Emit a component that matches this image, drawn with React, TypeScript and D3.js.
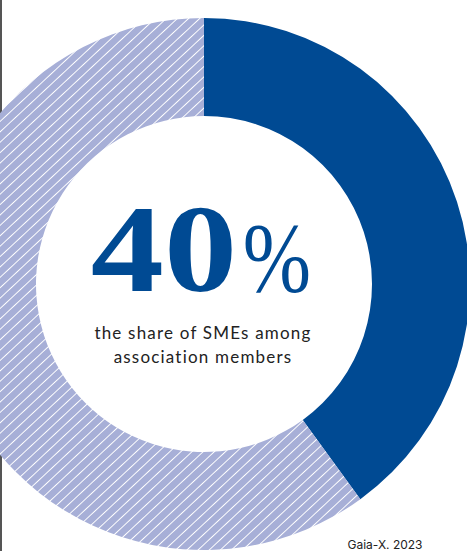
import React from "react";
import * as d3 from "d3";

const categories = ["SMEs", "Other members"];
const values = [40, 60];
const headline = "40";
const headlineUnit = "%";
const captionLines = ["the share of SMEs among", "association members"];
const source = "Gaia-X. 2023";

const W = 467;
const H = 551;
const cx = 204;
const cy = 284;
const rOuter = 266;
const rInner = 168;

export default function App() {
  const pie = d3
    .pie<number>()
    .sort(null)
    .value((d) => d);
  const arcs = pie(values);
  const arc = d3.arc<d3.PieArcDatum<number>>().innerRadius(rInner).outerRadius(rOuter);
  const fills = ["#004A93", "url(#hatch)"];
  const sp = 7.6;

  return (
    <svg
      width={W}
      height={H}
      style={{ position: "absolute", left: 0, top: 0, background: "#fff" }}
    >
      <defs>
        <pattern
          id="hatch"
          patternUnits="userSpaceOnUse"
          width={sp}
          height={sp}
          patternTransform="rotate(47)"
        >
          <rect width={sp} height={sp} fill="#A7AFD7" />
          <line x1={0} y1={0} x2={0} y2={sp} stroke="#fff" strokeWidth={1.9} />
        </pattern>
      </defs>
      <line x1={1} y1={0} x2={1} y2={H} stroke="#555" strokeWidth={2} />
      <g transform={`translate(${cx},${cy})`}>
        {arcs.map((a, i) => (
          <path key={categories[i]} d={arc(a) || ""} fill={fills[i]} />
        ))}
      </g>
      <text
        x={0}
        y={0}
        transform={`translate(164,291) scale(1.18,1)`}
        textAnchor="middle"
        fontFamily="'Liberation Serif', serif"
        fontWeight="bold"
        fontSize={124}
        fill="#004A93"
      >
        {headline}
      </text>
      <text
        x={0}
        y={0}
        transform={`translate(277,291) scale(0.82,1)`}
        textAnchor="middle"
        fontFamily="'Liberation Serif', serif"
        fontSize={100}
        fill="#004A93"
      >
        {headlineUnit}
      </text>
      {captionLines.map((t, i) => (
        <text
          key={t}
          x={203}
          y={339 + i * 24}
          textAnchor="middle"
          fontFamily="Lato, sans-serif"
          fontSize={17}
          letterSpacing={1.2}
          fill="#222"
        >
          {t}
        </text>
      ))}
      <text
        x={385}
        y={549}
        textAnchor="middle"
        fontFamily="Inter, sans-serif"
        fontSize={12}
        fill="#222"
      >
        {source}
      </text>
    </svg>
  );
}
